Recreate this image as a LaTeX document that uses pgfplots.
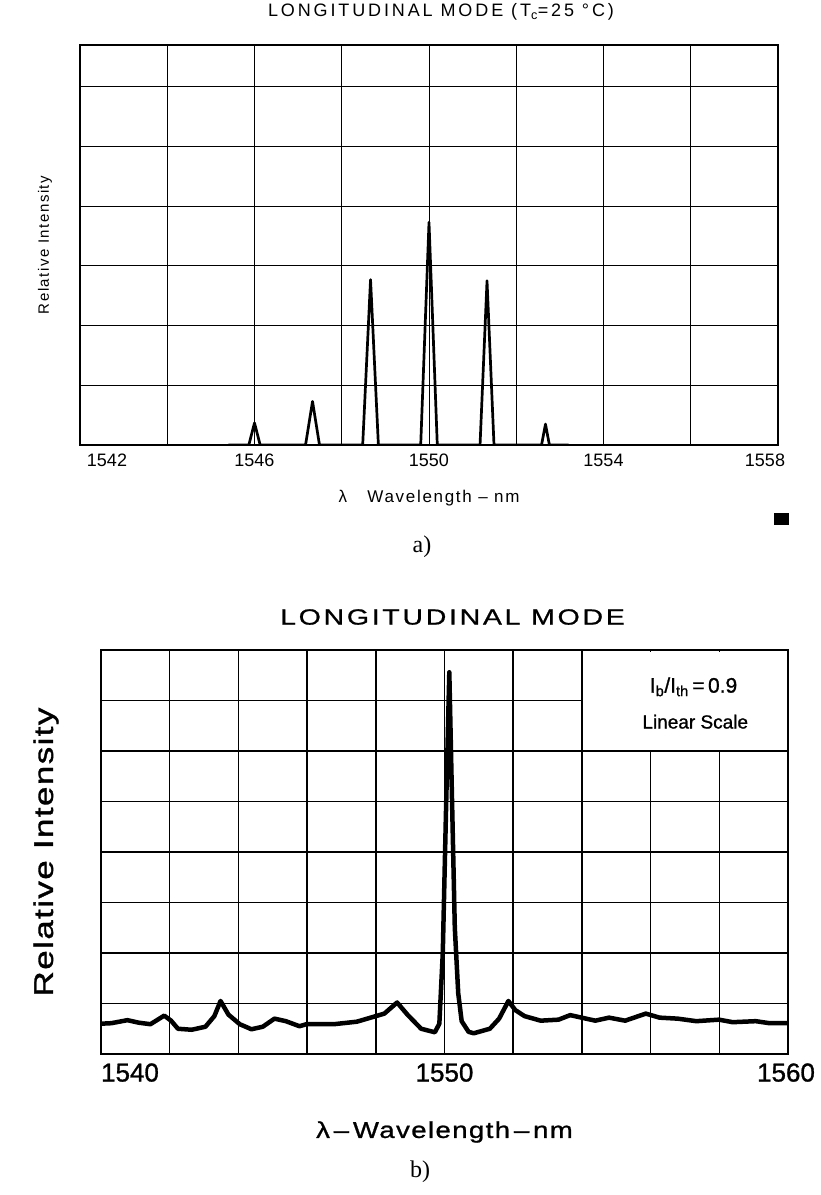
\documentclass[border=0pt]{standalone}
\usepackage{fontspec}
\setmainfont{Liberation Sans}
\newfontfamily\serifA{Liberation Serif}
\newfontfamily\fa[LetterSpace=10]{Liberation Sans}
\newfontfamily\fan{Liberation Sans}
\newfontfamily\fat[LetterSpace=16]{Liberation Sans}
\newfontfamily\fb[FakeBold=1]{Liberation Sans}
\newfontfamily\fbx[FakeStretch=1.2,LetterSpace=6,FakeBold=1]{Liberation Sans}
\newfontfamily\fby[FakeStretch=1.3,LetterSpace=5,FakeBold=1.2]{Liberation Sans}
\newfontfamily\fbt[FakeStretch=1.3,LetterSpace=12,FakeBold=0.8]{Liberation Sans}
\usepackage{pgfplots}
\pgfplotsset{compat=1.18}
\pgfplotstableread{
x y
1545.40 0
1545.87 0
1546.00 0.37
1546.13 0
1547.17 0
1547.33 0.73
1547.49 0
1548.48 0
1548.66 2.77
1548.84 0
1549.81 0
1550.00 3.73
1550.19 0
1551.17 0
1551.33 2.75
1551.49 0
1552.58 0
1552.67 0.35
1552.76 0
1553.20 0
}\spectrumA
\pgfplotstableread{
x y
1540.00 0.60
1540.30 0.61
1540.77 0.67
1541.10 0.62
1541.44 0.59
1541.84 0.76
1542.04 0.66
1542.24 0.50
1542.64 0.48
1543.04 0.54
1543.30 0.75
1543.48 1.05
1543.71 0.78
1544.04 0.59
1544.38 0.49
1544.71 0.54
1545.05 0.70
1545.38 0.65
1545.78 0.55
1545.98 0.59
1546.78 0.59
1547.45 0.64
1547.85 0.72
1548.25 0.80
1548.62 1.02
1548.92 0.78
1549.32 0.50
1549.72 0.43
1549.85 0.60
1549.95 2.00
1550.05 5.00
1550.14 7.56
1550.22 5.00
1550.30 2.50
1550.40 1.20
1550.50 0.65
1550.70 0.44
1550.85 0.41
1551.32 0.50
1551.59 0.70
1551.86 1.05
1552.06 0.87
1552.33 0.75
1552.80 0.66
1553.32 0.68
1553.66 0.77
1553.99 0.72
1554.39 0.66
1554.79 0.72
1555.26 0.66
1555.86 0.80
1556.26 0.72
1556.79 0.70
1557.33 0.65
1557.99 0.68
1558.39 0.63
1559.06 0.65
1559.46 0.61
1560.00 0.61
}\spectrumB
\begin{document}
\begin{tikzpicture}
\useasboundingbox (0pt,0pt) rectangle (820pt,1195pt);
% ---------------- panel a ----------------
\begin{axis}[
  at={(80pt,750pt)}, anchor=south west, scale only axis,
  width=698pt, height=400pt,
  xmin=1542, xmax=1558, ymin=0, ymax=6.7,
  xtick={1542,1544,...,1558},
  xticklabels={\hspace*{54pt}1542,,1546,,1550,,1554,,1558\hspace*{26pt}},
  ytick={1,...,6}, yticklabels={},
  major tick length=0pt,
  grid=major, grid style={black, line width=0.9pt},
  axis line style={black, line width=1.6pt},
  /pgf/number format/assume math mode=true,
  xticklabel style={font=\fan\fontsize{18}{18}\selectfont, yshift=-5pt, anchor=north, text height=13pt, text depth=0pt},
  title={LONGITUDINAL MODE (T\textsubscript{c}=25 °C)},
  title style={font=\fat\fontsize{18}{18}\selectfont, at={([xshift=12pt,yshift=27pt]axis description cs:0.5,1)}, anchor=center},
  xlabel={λ\hspace{1.2em}Wavelength – nm},
  xlabel style={font=\fa\fontsize{17}{17}\selectfont, at={([yshift=-53pt]axis description cs:0.5,0)}, anchor=center},
  ylabel={Relative Intensity},
  ylabel style={font=\fa\fontsize{15}{15}\selectfont, at={([xshift=-35pt]axis description cs:0,0.5)}, anchor=center},
]
\addplot[black, line width=2.7pt, line join=round] table[x=x,y=y] {\spectrumA};
\end{axis}
\node[font=\serifA\fontsize{24}{24}\selectfont] at (422pt,648pt) {a)};
\fill[black] (774pt,670pt) rectangle (789pt,682pt);
% ---------------- panel b ----------------
\begin{axis}[
  at={(101pt,141pt)}, anchor=south west, scale only axis,
  width=687pt, height=404pt,
  xmin=1540, xmax=1560, ymin=0, ymax=8,
  xtick={1540,1542,...,1560},
  xticklabels={\hspace*{58pt}1540,,,,,1550,,,,,1560\hspace*{4pt}},
  ytick={1,...,7}, yticklabels={},
  major tick length=0pt,
  grid=major, grid style={black, line width=1.5pt},
  axis line style={black, line width=2.8pt},
  /pgf/number format/assume math mode=true,
  xticklabel style={font=\fb\fontsize{26}{26}\selectfont, yshift=-5pt, anchor=north, text height=19pt, text depth=0pt},
  title={LONGITUDINAL MODE},
  title style={font=\fbt\fontsize{22}{22}\selectfont, at={([xshift=8pt,yshift=27pt]axis description cs:0.5,1)}, anchor=center},
  xlabel={λ\,–\,Wavelength\,–\,nm},
  xlabel style={font=\fbx\fontsize{23}{23}\selectfont, at={([yshift=-78pt]axis description cs:0.5,0)}, anchor=center},
  ylabel={Relative Intensity},
  ylabel style={font=\fby\fontsize{27}{27}\selectfont, at={([xshift=-55pt]axis description cs:0,0.5)}, anchor=center},
]
\addplot[black, line width=4.5pt, line join=round] table[x=x,y=y] {\spectrumB};
\fill[white] ([xshift=0.8pt,yshift=0.8pt]axis cs:1554,6) rectangle ([xshift=-1.5pt,yshift=-1.5pt]axis cs:1560,8);
\draw[black, line width=1.5pt] (axis cs:1554,6) -- (axis cs:1554,8);
\draw[black, line width=1.5pt] (axis cs:1554,6) -- (axis cs:1560,6);
\node[font=\fb\fontsize{21}{21}\selectfont] at (axis cs:1557.25,7.27)
  {I\textsubscript{b}/I\textsubscript{th}\,=\,0.9};
\node[font=\fb\fontsize{19}{19}\selectfont] at (axis cs:1557.3,6.58) {Linear Scale};
\end{axis}
\node[font=\serifA\fontsize{24}{24}\selectfont] at (420pt,23pt) {b)};
\end{tikzpicture}
\end{document}
